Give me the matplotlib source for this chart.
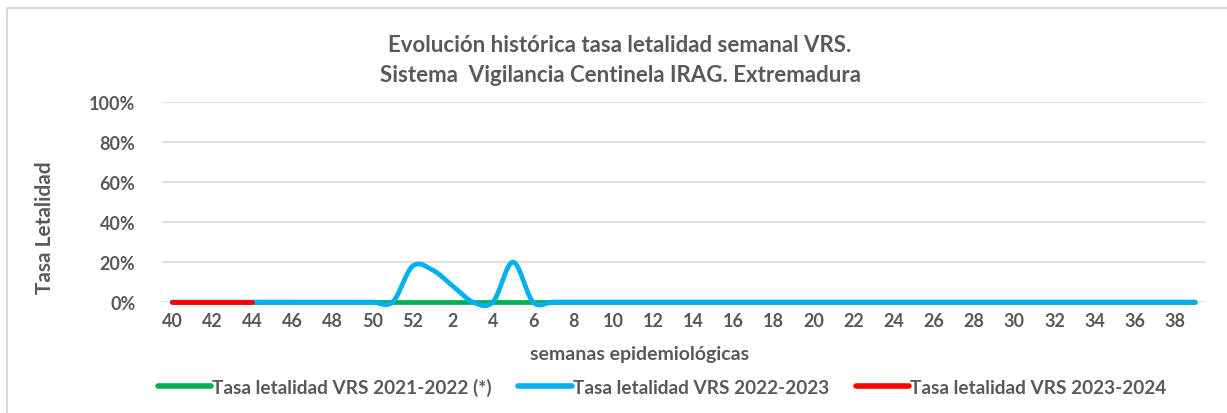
import numpy as np
import matplotlib
matplotlib.use("Agg")
from matplotlib import pyplot as plt
from matplotlib.lines import Line2D

# weeks 40..52 then 1..39
weeks = list(range(40, 53)) + list(range(1, 40))
tick_labels = [str(w) if i % 2 == 0 else "" for i, w in enumerate(weeks)]

# 2021-2022 (*): all zero
rate_2122 = [0.0] * 52
# 2022-2023
rate_2223 = [0.0] * 11 + [0.0, 0.18, 0.16, 0.08, 0.0, 0.0, 0.20, 0.0] + [0.0] * 33
# 2023-2024: weeks 40-44 so far
rate_2324 = [0.0, 0.0, 0.0, 0.0, 0.0]

series_names = ["Tasa letalidad VRS 2021-2022 (*)",
                "Tasa letalidad VRS 2022-2023",
                "Tasa letalidad VRS 2023-2024"]
colors = ["#00B050", "#00B0F0", "#FF0000"]

txt = "#595959"
plt.rcParams['font.family'] = ['Lato', 'DejaVu Sans']
plt.rcParams['font.weight'] = 'bold'


def smooth(y, n=20):
    # Excel-like smoothed line (Catmull-Rom style bezier)
    y = np.asarray(y, dtype=float)
    x = np.arange(len(y), dtype=float)
    if len(y) < 3:
        return x, y
    xs, ys = [], []
    for i in range(len(y) - 1):
        y0 = y[i - 1] if i > 0 else y[i]
        y3 = y[i + 2] if i + 2 < len(y) else y[i + 1]
        x0 = x[i - 1] if i > 0 else x[i]
        x3 = x[i + 2] if i + 2 < len(y) else x[i + 1]
        c1 = (x[i] + (x[i + 1] - x0) / 6, y[i] + (y[i + 1] - y0) / 6)
        c2 = (x[i + 1] - (x3 - x[i]) / 6, y[i + 1] - (y3 - y[i]) / 6)
        t = np.linspace(0, 1, n, endpoint=False)
        bx = (1-t)**3*x[i] + 3*(1-t)**2*t*c1[0] + 3*(1-t)*t**2*c2[0] + t**3*x[i+1]
        by = (1-t)**3*y[i] + 3*(1-t)**2*t*c1[1] + 3*(1-t)*t**2*c2[1] + t**3*y[i+1]
        xs.extend(bx)
        ys.extend(by)
    xs.append(x[-1])
    ys.append(y[-1])
    return np.array(xs), np.array(ys)


fig = plt.figure(figsize=(12.27, 4.14), dpi=100)
ax = fig.add_axes([0.132, 0.268, 0.850, 0.483])

for vals, c, name in zip([rate_2122, rate_2223, rate_2324], colors, series_names):
    sx, sy = smooth(vals)
    ax.plot(sx, sy, color=c, lw=3.4, solid_capstyle='round', label=name, clip_on=False)

ax.set_xlim(-0.5, len(weeks) - 0.5)
ax.set_ylim(0, 1.0)
yt = np.arange(0, 1.01, 0.2)
ax.set_yticks(yt)
ax.set_yticklabels([f"{int(round(v*100))}%" for v in yt])
ax.set_xticks(range(len(weeks)))
ax.set_xticklabels(tick_labels)
ax.tick_params(length=0, labelsize=13, colors=txt, pad=7)
ax.tick_params(axis='y', pad=19)
ax.grid(axis='y', color='#D9D9D9', lw=1.2)
ax.set_axisbelow(True)
for s in ax.spines.values():
    s.set_visible(False)

fig.text(640 / 1227, 1 - 355 / 414, "semanas epidemiológicas", fontsize=14,
         color=txt, ha='center', va='center')
fig.text(45 / 1227, 1 - 228 / 414, "Tasa Letalidad", rotation=90, fontsize=15,
         color=txt, ha='center', va='center')
fig.text(620 / 1227, 1 - 45 / 414, "Evolución histórica tasa letalidad semanal VRS.",
         fontsize=16, color=txt, ha='center', va='center')
fig.text(620 / 1227, 1 - 75 / 414, "Sistema  Vigilancia Centinela IRAG. Extremadura",
         fontsize=16, color=txt, ha='center', va='center')

leg = fig.legend(loc='center', bbox_to_anchor=(662 / 1227, 1 - 388 / 414), ncol=3,
                 frameon=False, fontsize=13.7, handlelength=2.8, handletextpad=0.05,
                 columnspacing=1.4)
for t in leg.get_texts():
    t.set_color(txt)
for h in leg.legend_handles:
    h.set_linewidth(4)

# chart border
fig.add_artist(Line2D([7 / 1227, 7 / 1227], [0, 1 - 9 / 414], color='#D9D9D9', lw=1.5))
fig.add_artist(Line2D([7 / 1227, 1], [1 - 9 / 414, 1 - 9 / 414], color='#D9D9D9', lw=1.5))

fig.savefig("out.png", dpi=100)
